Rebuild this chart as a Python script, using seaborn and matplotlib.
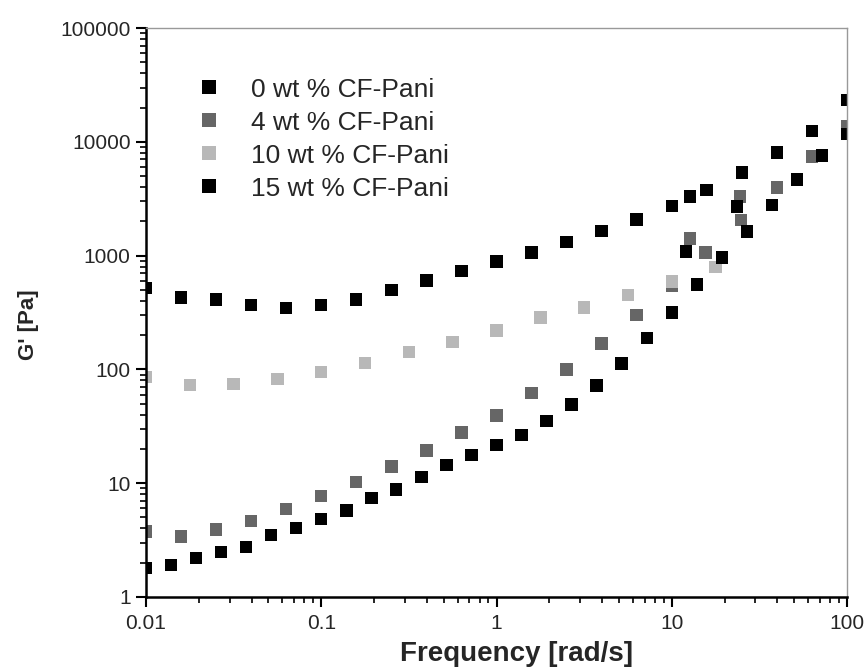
import numpy as np
import pandas as pd
import matplotlib
matplotlib.use("Agg")
import matplotlib.pyplot as plt
import seaborn as sns
from matplotlib.ticker import FixedLocator, FixedFormatter, LogLocator, NullFormatter
from matplotlib.lines import Line2D

# ---- data ----
labels = ["0 wt % CF-Pani", "4 wt % CF-Pani", "10 wt % CF-Pani", "15 wt % CF-Pani"]
colors = ["#000000", "#666666", "#b8b8b8", "#000000"]

freq_0 = [0.01, 0.0158, 0.0251, 0.0398, 0.0631, 0.1, 0.158, 0.251, 0.398, 0.631,
          1.0, 1.58, 2.51, 3.98, 6.31, 10.0, 12.7, 15.8, 25.1, 39.8, 63.1, 100.0]
g_0 = [522, 430, 413, 368, 346, 366, 413, 499, 602, 732,
       884, 1069, 1318, 1644, 2084, 2729, 3295, 3750, 5353, 8020, 12440, 23300]

freq_4 = [0.01, 0.0158, 0.0251, 0.0398, 0.0631, 0.1, 0.158, 0.251, 0.398, 0.631,
          1.0, 1.58, 2.51, 3.98, 6.31, 10.0, 12.7, 15.6, 24.6, 24.8, 39.8, 63.1, 100.0]
g_4 = [3.75, 3.39, 3.93, 4.68, 5.93, 7.72, 10.3, 14.0, 19.3, 28.0,
       39.2, 61.7, 100, 169, 301, 545, 1419, 1061, 3295, 2055, 3980, 7400, 13580]

freq_10 = [0.01, 0.0178, 0.0316, 0.0562, 0.1, 0.178, 0.316, 0.562,
           1.0, 1.78, 3.16, 5.62, 10.0, 17.8]
g_10 = [86, 73, 74, 82, 95, 114, 143, 175, 219, 287, 349, 451, 590, 794]

freq_15 = [0.01, 0.0139, 0.0193, 0.0268, 0.0373, 0.0518, 0.072, 0.1, 0.139, 0.193,
           0.268, 0.373, 0.518, 0.72, 1.0, 1.39, 1.93, 2.68, 3.73, 5.18, 7.2, 10.0,
           12.05, 13.9, 19.3, 23.5, 26.8, 37.3, 51.8, 72.0, 100.0]
g_15 = [1.79, 1.91, 2.19, 2.49, 2.75, 3.5, 4.02, 4.85, 5.78, 7.41,
        8.84, 11.4, 14.5, 17.7, 21.7, 26.5, 35.4, 49.3, 72.5, 113, 189, 315,
        1082, 555, 959, 2690, 1622, 2785, 4680, 7610, 11720]

x_ticks = [0.01, 0.1, 1, 10, 100]
x_tick_labels = ["0.01", "0.1", "1", "10", "100"]
y_ticks = [1, 10, 100, 1000, 10000, 100000]
y_tick_labels = ["1", "10", "100", "1000", "10000", "100000"]

series = [(labels[0], freq_0, g_0), (labels[1], freq_4, g_4),
          (labels[2], freq_10, g_10), (labels[3], freq_15, g_15)]
df = pd.concat([pd.DataFrame({"freq": f, "G": g, "sample": lab}) for lab, f, g in series],
               ignore_index=True)

# ---- plot ----
sns.set_style("white")
plt.rcParams["font.family"] = ["Liberation Sans", "DejaVu Sans"]

fig = plt.figure(figsize=(8.67, 6.70), dpi=100)
ax = fig.add_axes([146 / 867, 1 - 597 / 670, 701 / 867, 569 / 670])

sns.scatterplot(data=df, x="freq", y="G", hue="sample", hue_order=labels,
                palette=dict(zip(labels, colors)), marker="s", s=80,
                linewidth=0, ax=ax, legend=False)

ax.set_xscale("log")
ax.set_yscale("log")
ax.set_xlim(0.01, 100)
ax.set_ylim(1, 100000)

ax.xaxis.set_major_locator(FixedLocator(x_ticks))
ax.xaxis.set_major_formatter(FixedFormatter(x_tick_labels))
ax.yaxis.set_major_locator(FixedLocator(y_ticks))
ax.yaxis.set_major_formatter(FixedFormatter(y_tick_labels))
ax.xaxis.set_minor_locator(LogLocator(base=10, subs=np.arange(2, 10), numticks=20))
ax.yaxis.set_minor_locator(LogLocator(base=10, subs=np.arange(2, 10), numticks=20))
ax.xaxis.set_minor_formatter(NullFormatter())
ax.yaxis.set_minor_formatter(NullFormatter())

ax.tick_params(which="major", direction="out", length=7, width=1.5, labelsize=15,
               bottom=True, left=True, top=False, right=False, color="black")
ax.tick_params(which="minor", direction="out", length=4, width=1.2,
               bottom=True, left=True, top=False, right=False, color="black")
ax.tick_params(axis="x", which="major", pad=5)
ax.tick_params(axis="y", which="major", pad=4)

for side in ["left", "bottom"]:
    ax.spines[side].set_color("black")
    ax.spines[side].set_linewidth(1.8)
for side in ["top", "right"]:
    ax.spines[side].set_color("#999999")
    ax.spines[side].set_linewidth(1.0)

ax.set_xlabel("Frequency [rad/s]", fontsize=20, fontweight="bold")
ax.xaxis.set_label_coords(0.529, -0.078)
ax.set_ylabel("G' [Pa]", fontsize=16, fontweight="bold")
ax.yaxis.set_label_coords(-0.152, 0.478)

# legend
handles = [Line2D([], [], linestyle="none", marker="s", markersize=10,
                  markerfacecolor=c, markeredgewidth=0) for c in colors]
ax.legend(handles, labels, loc="upper left", bbox_to_anchor=(0.052, 0.936),
          frameon=False, fontsize=19, handletextpad=1.1, labelspacing=0.34,
          borderpad=0, handlelength=1.0)

fig.savefig("out.png", dpi=100)
